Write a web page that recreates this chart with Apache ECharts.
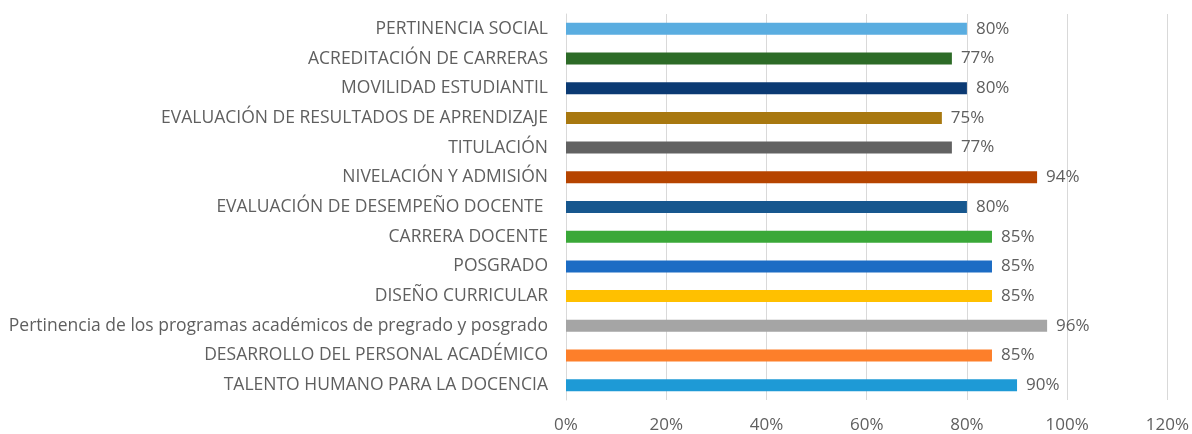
<!DOCTYPE html>
<html>
<head>
<meta charset="utf-8">
<script src="https://cdn.jsdelivr.net/npm/echarts@6/dist/echarts.min.js"></script>
<style>
  html, body { margin: 0; padding: 0; background: #fff; }
  #chart { width: 1192px; height: 434px; }
</style>
</head>
<body>
<div id="chart"></div>
<script>
// categories, top to bottom
const categories = [
  'PERTINENCIA SOCIAL',
  'ACREDITACIÓN DE CARRERAS',
  'MOVILIDAD ESTUDIANTIL',
  'EVALUACIÓN DE RESULTADOS DE APRENDIZAJE',
  'TITULACIÓN',
  'NIVELACIÓN Y ADMISIÓN',
  'EVALUACIÓN DE DESEMPEÑO DOCENTE ',
  'CARRERA DOCENTE',
  'POSGRADO',
  'DISEÑO CURRICULAR',
  'Pertinencia de los programas académicos de pregrado y posgrado',
  'DESARROLLO DEL PERSONAL ACADÉMICO',
  'TALENTO HUMANO PARA LA DOCENCIA'
];
const values = [80, 77, 80, 75, 77, 94, 80, 85, 85, 85, 96, 85, 90];
const barColors = [
  '#5aade0', '#2d6b27', '#0b3a73', '#a87810', '#626262', '#b64400', '#17578e',
  '#3aa838', '#1c6cc4', '#ffc000', '#a5a5a5', '#fd7f2a', '#1e9ad6'
];
const xTicks = [0, 20, 40, 60, 80, 100, 120];

const myChart = echarts.init(document.getElementById('chart'));

const option = {
  animation: false,
  textStyle: { fontFamily: 'Open Sans', color: '#5f5f5f' },
  grid: { left: 566, right: 24, top: 14, bottom: 34, containLabel: false },
  xAxis: {
    type: 'value',
    min: xTicks[0],
    max: xTicks[xTicks.length - 1],
    interval: 20,
    axisLine: { show: false },
    axisTick: { show: false },
    splitLine: { lineStyle: { color: '#d9d9d9' } },
    axisLabel: { formatter: '{value}%', color: '#5f5f5f', fontSize: 17, margin: 17 }
  },
  yAxis: {
    type: 'category',
    inverse: true,
    data: categories,
    axisLine: { lineStyle: { color: '#d9d9d9' } },
    axisTick: { show: false },
    axisLabel: { color: '#5f5f5f', fontSize: 17.5, margin: 18 }
  },
  series: [
    {
      type: 'bar',
      barWidth: 12,
      data: values.map((v, i) => ({ value: v, itemStyle: { color: barColors[i] } })),
      label: {
        show: true,
        position: 'right',
        distance: 9,
        formatter: '{c}%',
        color: '#5f5f5f',
        fontSize: 17
      }
    }
  ]
};

myChart.setOption(option);
</script>
</body>
</html>
